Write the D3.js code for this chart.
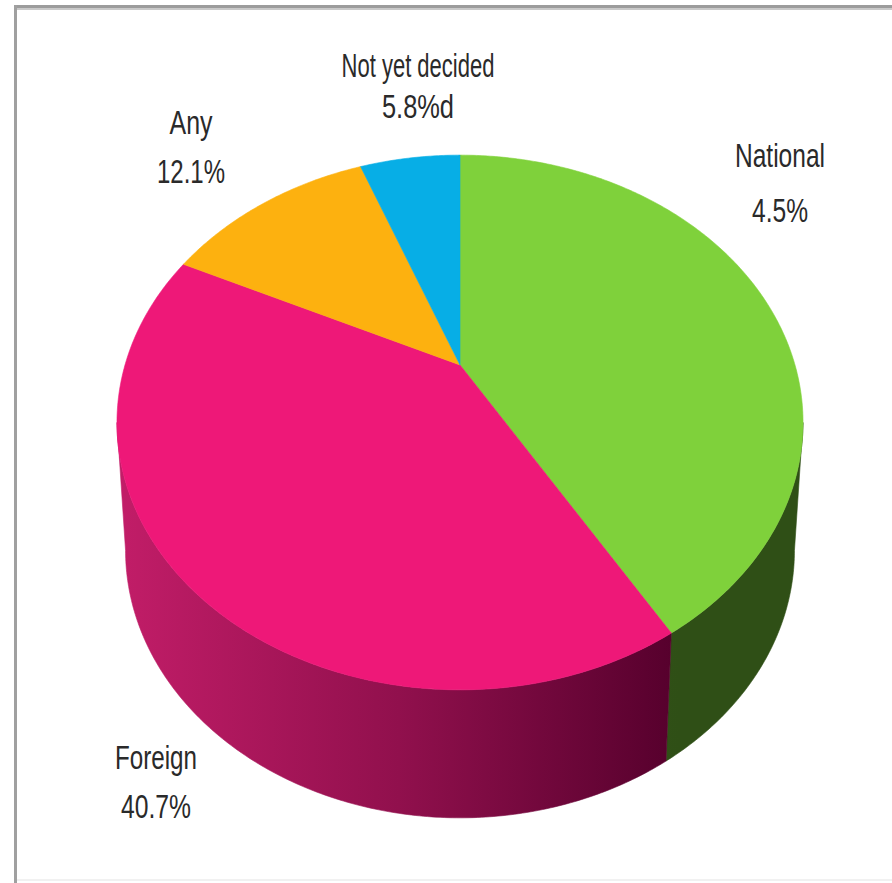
<!DOCTYPE html>
<html>
<head>
<meta charset="utf-8">
<script src="https://cdn.jsdelivr.net/npm/d3@7/dist/d3.min.js"></script>
<style>
  html, body { margin: 0; padding: 0; background: #ffffff; }
  svg { display: block; }
</style>
</head>
<body>
<svg id="chart" width="892" height="883"></svg>
<script>
// ---- data ----
const categories = ["National", "Foreign", "Any", "Not yet decided"];
const values = [41.4, 40.7, 12.1, 5.8];
const valueLabels = ["4.5%", "40.7%", "12.1%", "5.8%d"];
const topColors = ["#7fd13b", "#ee1878", "#fdb10f", "#07aee6"];
const sideColorsA = ["#43681f", "#c21d68", "#c98a0a", "#0588b5"];
const sideColorsB = ["#2f4f16", "#55002c", "#9a6a05", "#046b8f"];

// ---- layout ----
const W = 892, H = 883;
const svg = d3.select("#chart");

// frame
svg.append("rect").attr("x", 0).attr("y", 0).attr("width", W).attr("height", H).attr("fill", "#ffffff");
svg.append("rect").attr("x", 14).attr("y", 5).attr("width", W - 14).attr("height", 3).attr("fill", "#9c9c9c");
svg.append("rect").attr("x", 14).attr("y", 8).attr("width", W - 14).attr("height", 2).attr("fill", "#c9c9c9");
svg.append("rect").attr("x", 14).attr("y", 5).attr("width", 3).attr("height", H - 5).attr("fill", "#a0a0a0");
svg.append("rect").attr("x", 17).attr("y", 879).attr("width", W - 17).attr("height", 2).attr("fill", "#f1f1f1");

// perspective projection of the pie disc
const cx = 460, cy = 365;
const A = 335, B = 255, C = -0.215;
const depth = 128, bottomScale = 0.975;
function topPt(t) {
  const X = Math.sin(t), Y = -Math.cos(t);
  const den = 1 + C * Y;
  return [cx + A * X / den, cy + B * Y / den];
}
function botPt(t) {
  const p = topPt(t);
  return [cx + (p[0] - cx) * bottomScale, p[1] + depth];
}
// angles where the rim is the silhouette (left/right extremes)
const yExt = (-B * C / (1 - C * C));
const Yext = yExt / (B - yExt * C);
const tR = Math.acos(-Yext), tL = 2 * Math.PI - tR;

const pie = d3.pie().sort(null).value(d => d)(values);
const line = d3.line();
function arcPts(f, a0, a1) {
  const n = Math.max(2, Math.ceil(Math.abs(a1 - a0) / 0.01));
  return d3.range(n + 1).map(i => f(a0 + (a1 - a0) * i / n));
}

const defs = svg.append("defs");
pie.forEach((p, i) => {
  const g = defs.append("linearGradient").attr("id", "side" + i)
    .attr("gradientUnits", "userSpaceOnUse")
    .attr("x1", 117).attr("y1", 0).attr("x2", 680).attr("y2", 0);
  g.append("stop").attr("offset", 0).attr("stop-color", sideColorsA[i]);
  g.append("stop").attr("offset", 0.5).attr("stop-color", d3.interpolateRgb(sideColorsA[i], sideColorsB[i])(0.45));
  g.append("stop").attr("offset", 1).attr("stop-color", sideColorsB[i]);
});

// side walls
const sides = svg.append("g");
pie.forEach((p, i) => {
  const a0 = Math.max(p.startAngle, tR), a1 = Math.min(p.endAngle, tL);
  if (a1 <= a0) return;
  const pts = arcPts(topPt, a0, a1).concat(arcPts(botPt, a1, a0));
  sides.append("path").attr("d", line(pts) + "Z")
    .attr("fill", `url(#side${i})`)
    .attr("stroke", `url(#side${i})`).attr("stroke-width", 0.6);
});

// top faces
const tops = svg.append("g");
pie.forEach((p, i) => {
  const pts = [[cx, cy]].concat(arcPts(topPt, p.startAngle, p.endAngle));
  tops.append("path").attr("d", line(pts) + "Z")
    .attr("fill", topColors[i])
    .attr("stroke", topColors[i]).attr("stroke-width", 0.6);
});

// labels
const labelLayout = [
  { x: 780, y1: 167, y2: 222, w1: 90, w2: 56 },   // National
  { x: 156, y1: 769, y2: 818, w1: 82, w2: 70 },   // Foreign
  { x: 191, y1: 134, y2: 183, w1: 43, w2: 68 },   // Any
  { x: 418, y1: 77,  y2: 118, w1: 153, w2: 72 }   // Not yet decided
];
const labels = svg.append("g")
  .attr("font-family", "'Liberation Sans Narrow', 'Arial Narrow', 'Liberation Sans', Arial, sans-serif")
  .attr("font-size", 33)
  .attr("fill", "#2a2a2a")
  .attr("text-anchor", "middle");
categories.forEach((c, i) => {
  const L = labelLayout[i];
  labels.append("text").attr("x", L.x).attr("y", L.y1)
    .attr("textLength", L.w1).attr("lengthAdjust", "spacingAndGlyphs").text(c);
  labels.append("text").attr("x", L.x).attr("y", L.y2)
    .attr("textLength", L.w2).attr("lengthAdjust", "spacingAndGlyphs").text(valueLabels[i]);
});
</script>
</body>
</html>
